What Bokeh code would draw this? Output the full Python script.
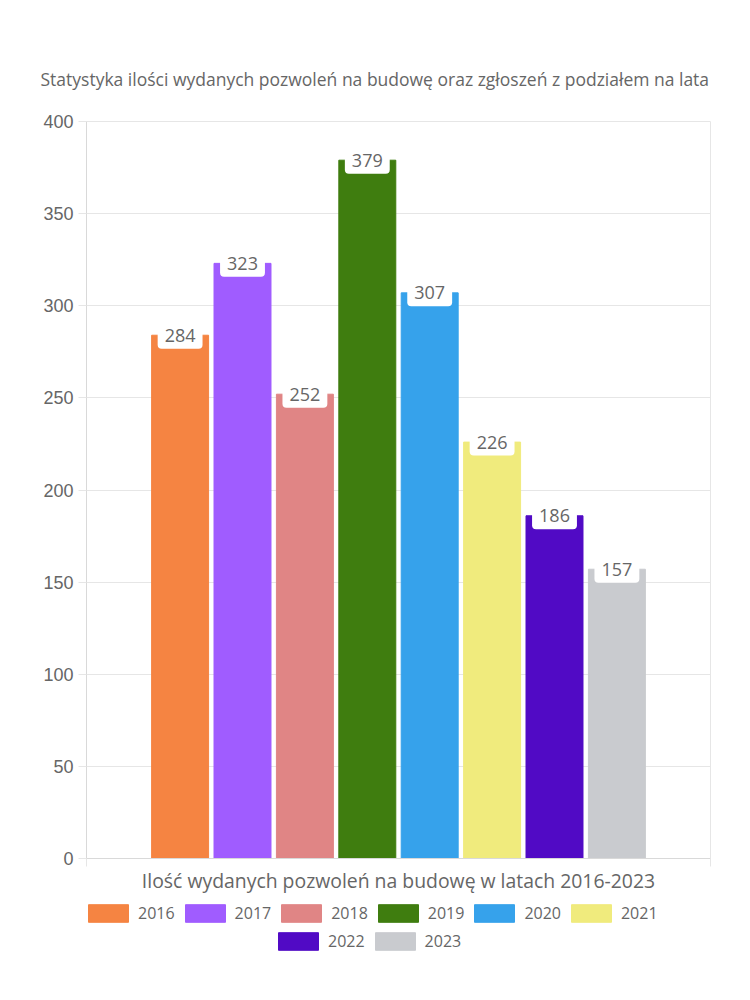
from bokeh.plotting import figure
from bokeh.layouts import column
from bokeh.models import Range1d, FixedTicker, Legend, LegendItem, ColumnDataSource
from bokeh.embed import file_html
from bokeh.resources import INLINE
from bokeh.core.properties import value

# ---- data ----
years = ["2016", "2017", "2018", "2019", "2020", "2021", "2022", "2023"]
permits = [284, 323, 252, 379, 307, 226, 186, 157]
bar_colors = ["#F58442", "#A05CFF", "#E08585", "#3F7D0F", "#36A2EB", "#F0EB7D", "#510AC5", "#C9CBCF"]
y_ticks = [0, 50, 100, 150, 200, 250, 300, 350, 400]
chart_title = "Statystyka ilości wydanych pozwoleń na budowę oraz zgłoszeń z podziałem na lata"
x_title = "Ilość wydanych pozwoleń na budowę w latach 2016-2023"

TEXT = "#666666"
GRID = "#e6e6e6"
FONT = "Open Sans"

n = len(years)
src = ColumnDataSource(dict(
    x=list(range(n)),
    top=permits,
    color=bar_colors,
    label=[str(v) for v in permits],
))
x_lo, x_hi = -1.5, n - 1 + 1.5

# ---------------- main chart ----------------
p = figure(width=750, height=900, output_backend="svg", toolbar_location=None,
           x_range=Range1d(x_lo, x_hi), y_range=Range1d(0, 400),
           min_border_left=86, min_border_right=40, min_border_top=121, min_border_bottom=42)
p.background_fill_color = "white"
p.border_fill_color = "white"
p.outline_line_color = GRID

bars = p.vbar(x="x", top="top", width=0.913, bottom=0, color="color", source=src)

p.text(x="x", y="top", text="label", source=src,
       text_align="center", text_baseline="middle",
       text_font=value(FONT), text_font_size="18px", text_color=TEXT,
       background_fill_color="white", padding=7, border_radius=4)

# title
p.title.text = chart_title
p.title.align = "left"
p.title.offset = -46
p.title.text_font = FONT
p.title.text_font_size = "17.5px"
p.title.text_font_style = "normal"
p.title.text_color = TEXT
p.title.standoff = 62

# y axis
ya = p.yaxis[0]
ya.ticker = FixedTicker(ticks=y_ticks)
ya.major_label_text_font = "Liberation Sans"
ya.major_label_text_font_size = "18px"
ya.major_label_text_color = TEXT
ya.major_tick_out = 8
ya.major_tick_in = 0
ya.minor_tick_line_color = None
ya.major_tick_line_color = GRID
ya.axis_line_color = "#d9d9d9"
ya.major_label_standoff = 5

# x axis
xa = p.xaxis[0]
xa.ticker = FixedTicker(ticks=[x_lo, x_hi])
xa.major_label_overrides = {x_lo: "", x_hi: ""}
xa.major_label_text_font_size = "1px"
xa.major_label_standoff = 0
xa.major_tick_out = 8
xa.major_tick_in = 0
xa.minor_tick_line_color = None
xa.major_tick_line_color = GRID
xa.axis_line_color = "#d9d9d9"
xa.axis_label = x_title
xa.axis_label_text_font = FONT
xa.axis_label_text_font_size = "19.4px"
xa.axis_label_text_font_style = "normal"
xa.axis_label_text_color = TEXT
xa.axis_label_standoff = 0

p.xgrid.grid_line_color = None
p.ygrid.grid_line_color = GRID
p.ygrid.ticker = FixedTicker(ticks=y_ticks)

# ---------------- legend strip ----------------
lf = figure(width=750, height=100, output_backend="svg", toolbar_location=None,
            x_range=Range1d(x_lo, x_hi), y_range=Range1d(1000, 1001),
            x_axis_type=None, y_axis_type=None,
            min_border_left=0, min_border_right=0, min_border_top=0, min_border_bottom=0)
lf.outline_line_color = None
lf.background_fill_color = "white"
lf.border_fill_color = "white"
legend_bars = lf.vbar(x="x", top="top", width=0.913, bottom=0, color="color", source=src)

split = 6
rows = [(range(0, split), (-3, 76)), (range(split, n), (187, 48))]
for rng, loc in rows:
    items = [LegendItem(label=years[i], renderers=[legend_bars], index=i) for i in rng]
    lg = Legend(items=items, orientation="horizontal", location=loc,
                border_line_color=None, background_fill_alpha=0,
                glyph_width=50, glyph_height=22, label_height=22, label_standoff=5, spacing=5,
                padding=0, margin=0,
                label_text_font=FONT, label_text_font_size="16px", label_text_color=TEXT)
    lf.add_layout(lg, "center")

layout = column(p, lf, spacing=0)
open("out.html", "w").write(file_html(layout, INLINE))
